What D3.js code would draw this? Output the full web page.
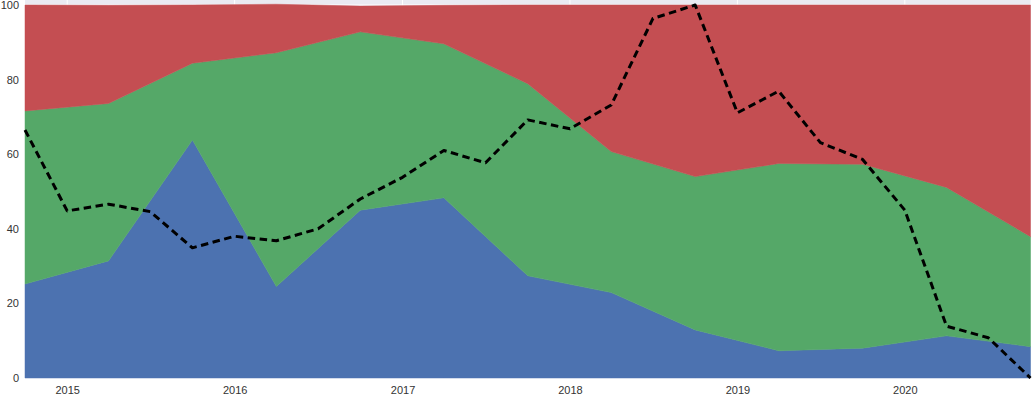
<!DOCTYPE html>
<html>
<head>
<meta charset="utf-8">
<script src="https://cdn.jsdelivr.net/npm/d3@7"></script>
<style>
  body { margin: 0; background: #fff; }
  text { font-family: "Liberation Sans", Arial, sans-serif; }
</style>
</head>
<body>
<div id="container"></div>
<script>
/* CONSTANTS AND GLOBALS */
const width = 1033,
  height = 397,
  margin = { top: 0, bottom: 19, left: 25, right: 2.5 };

// DATA - half-yearly stacked shares
const areaDates = ["2014-10-01", "2015-04-01", "2015-10-01", "2016-04-01", "2016-10-01", "2017-04-01",
  "2017-10-01", "2018-04-01", "2018-10-01", "2019-04-01", "2019-10-01", "2020-04-01", "2020-10-01"];
const blueValues = [25.2, 31.4, 63.8, 24.5, 45.0, 48.3, 27.4, 22.9, 12.9, 7.3, 8.0, 11.3, 8.4];
const greenValues = [46.4, 42.2, 20.6, 62.7, 47.8, 41.3, 51.5, 37.8, 41.1, 50.2, 49.3, 39.8, 29.5];
const redValues = [28.4, 26.3, 15.6, 13.0, 6.9, 10.3, 21.1, 39.3, 46.0, 42.5, 42.7, 48.9, 62.1];

// DATA - quarterly dashed line
const lineDates = ["2014-10-01", "2015-01-01", "2015-04-01", "2015-07-01", "2015-10-01", "2016-01-01",
  "2016-04-01", "2016-07-01", "2016-10-01", "2017-01-01", "2017-04-01", "2017-07-01", "2017-10-01",
  "2018-01-01", "2018-04-01", "2018-07-01", "2018-10-01", "2019-01-01", "2019-04-01", "2019-07-01",
  "2019-10-01", "2020-01-01", "2020-04-01", "2020-07-01", "2020-10-01"];
const lineValues = [66.5, 44.8, 46.6, 44.6, 34.9, 38.0, 36.8, 40.0, 48.0, 53.8, 61.0, 57.7, 69.2,
  66.8, 73.2, 96.4, 100, 71.1, 76.9, 63.1, 58.6, 45.0, 13.9, 10.8, 0];

const yTicks = [0, 20, 40, 60, 80, 100];
const xTickYears = ["2015", "2016", "2017", "2018", "2019", "2020"];

const seriesKeys = ["blue", "green", "red"];
const colors = ["#4C72B0", "#55A868", "#C44E52"];

const parse = d3.timeParse("%Y-%m-%d");

// BUILD TABLE FOR STACK
const table = areaDates.map((d, i) => ({
  date: parse(d),
  blue: blueValues[i],
  green: greenValues[i],
  red: redValues[i]
}));
const lineData = lineDates.map((d, i) => ({ date: parse(d), value: lineValues[i] }));

// APPEND SVG
const svg = d3.select("#container")
  .append("svg")
  .attr("width", width)
  .attr("height", height);

// SCALES
const xScale = d3.scaleTime()
  .domain(d3.extent(table, d => d.date))
  .range([margin.left, width - margin.right]);

const yScale = d3.scaleLinear()
  .domain([0, 100])
  .range([378, 5]);

const plotTop = margin.top, plotBottom = yScale(0);

// BACKGROUND + GRID
svg.append("rect")
  .attr("x", margin.left)
  .attr("y", plotTop)
  .attr("width", width - margin.right - margin.left)
  .attr("height", plotBottom - plotTop)
  .attr("fill", "#EAEAF2");

const xTicks = xTickYears.map(y => parse(y + "-01-01"));

svg.selectAll("line.vgrid")
  .data(xTicks)
  .join("line")
  .attr("class", "vgrid")
  .attr("x1", d => xScale(d))
  .attr("x2", d => xScale(d))
  .attr("y1", plotTop)
  .attr("y2", plotBottom)
  .attr("stroke", "white")
  .attr("stroke-width", 1);

svg.selectAll("line.hgrid")
  .data(yTicks)
  .join("line")
  .attr("class", "hgrid")
  .attr("x1", margin.left)
  .attr("x2", width - margin.right)
  .attr("y1", d => yScale(d))
  .attr("y2", d => yScale(d))
  .attr("stroke", "white")
  .attr("stroke-width", 1);

// STACKED AREAS
const stack = d3.stack().keys(seriesKeys);
const stacked = stack(table);

const areaGen = d3.area()
  .x(d => xScale(d.data.date))
  .y0(d => yScale(d[0]))
  .y1(d => yScale(d[1]));

svg.selectAll("path.layer")
  .data(stacked)
  .join("path")
  .attr("class", "layer")
  .attr("d", areaGen)
  .attr("fill", (d, i) => colors[i])
  .attr("stroke", (d, i) => colors[i])
  .attr("stroke-width", 0.5);

// DASHED LINE
const lineGen = d3.line()
  .x(d => xScale(d.date))
  .y(d => yScale(d.value));

svg.append("path")
  .datum(lineData)
  .attr("d", lineGen)
  .attr("fill", "none")
  .attr("stroke", "black")
  .attr("stroke-width", 3)
  .attr("stroke-dasharray", "7.5,4.5")
  .attr("stroke-linejoin", "round");

// AXES
const xAxis = d3.axisBottom(xScale)
  .tickValues(xTicks)
  .tickFormat(d3.timeFormat("%Y"))
  .tickSize(0)
  .tickPadding(8);

svg.append("g")
  .attr("transform", `translate(0, ${plotBottom})`)
  .call(xAxis)
  .call(g => g.select(".domain").remove())
  .call(g => g.selectAll("text").attr("fill", "#333").style("font-size", "11px"));

const yAxis = d3.axisLeft(yScale)
  .tickValues(yTicks)
  .tickSize(0)
  .tickPadding(6);

svg.append("g")
  .attr("transform", `translate(${margin.left}, 0)`)
  .call(yAxis)
  .call(g => g.select(".domain").remove())
  .call(g => g.selectAll("text").attr("fill", "#333").style("font-size", "11px"));
</script>
</body>
</html>
